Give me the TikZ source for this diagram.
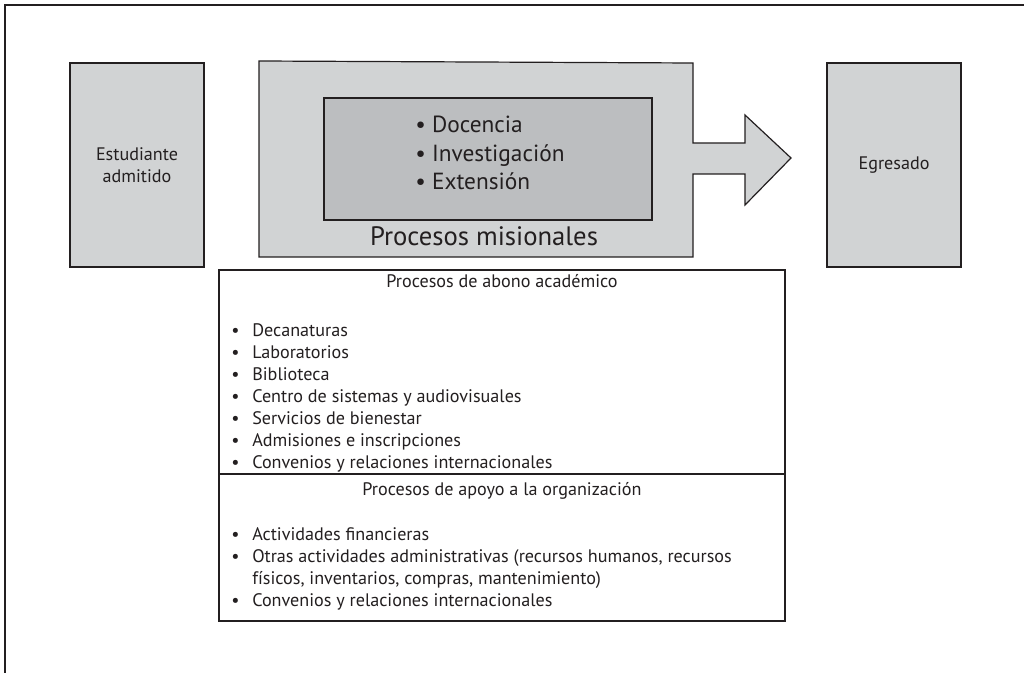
\documentclass[tikz,border=0pt]{standalone}
\usepackage{fontspec}
\setmainfont{PT Sans}
\definecolor{lightgr}{RGB}{209,211,212}
\definecolor{darkgr}{RGB}{188,190,192}
\definecolor{ink}{RGB}{35,31,32}
\newcommand{\smallfnt}{\fontsize{13.6}{16.5}\selectfont}
\newcommand{\bigfnt}{\fontsize{17.5}{21.4}\selectfont}
\newcommand{\itm}{\makebox[15.75pt][l]{\textbullet}}
\tikzset{
  greybox/.style={draw=ink,line width=0.9pt,fill=lightgr},
  innerbox/.style={draw=ink,line width=0.9pt,fill=darkgr},
  plain/.style={draw=ink,line width=0.9pt},
  txt/.style={inner sep=0pt,text=ink,font=\smallfnt,align=center},
  listtxt/.style={inner sep=0pt,text=ink,font=\smallfnt,align=left,anchor=base west}
}
\begin{document}
\begin{tikzpicture}[x=0.75pt,y=-0.75pt]
\useasboundingbox (0,0) rectangle (1024,673);
\fill[white] (0,0) rectangle (1024,673);
\draw[ink,line width=1.1pt] (5,673) -- (5,5) -- (1024,5);
% entrada y salida
\draw[greybox] (70,63) rectangle (204,267);
\node[txt] (estud) at (137,165) {Estudiante\\admitido};
\draw[greybox] (827,63) rectangle (961,267);
\node[txt] (egres) at (894,165) {Egresado};
% procesos misionales (base = last line)
\draw[greybox] (259,61) -- (693,63) -- (693,143) -- (745,143) -- (745,115)
  -- (791,158) -- (745,205) -- (745,174) -- (693,174) -- (693,257) -- (259,257) -- cycle;
\draw[innerbox] (324,98) rectangle (652,220);
\node[listtxt,font=\bigfnt] (mision) at (415,190) {\textbullet\ Docencia\\\textbullet\ Investigación\\\textbullet\ Extensión};
\node[txt,font=\fontsize{20}{24}\selectfont,anchor=base] (misional) at (484,246) {Procesos misionales};
% procesos de abono
\draw[plain] (219,270) rectangle (785,474);
\node[txt,anchor=base] (abono) at (502,288) {Procesos de abono académico};
\node[listtxt] (abonolist) at (231,468) {\itm Decanaturas\\\itm Laboratorios\\\itm Biblioteca\\
  \itm Centro de sistemas y audiovisuales\\\itm Servicios de bienestar\\
  \itm Admisiones e inscripciones\\\itm Convenios y relaciones internacionales};
% procesos de apoyo
\draw[plain] (219,474) rectangle (785,621);
\node[txt,anchor=base] (apoyo) at (502,495) {Procesos de apoyo a la organización};
\node[listtxt] (apoyolist) at (231,606) {\itm Actividades financieras\\
  \itm Otras actividades administrativas (recursos humanos, recursos\\
  \hspace*{15.75pt}físicos, inventarios, compras, mantenimiento)\\
  \itm Convenios y relaciones internacionales};
\end{tikzpicture}
\end{document}
